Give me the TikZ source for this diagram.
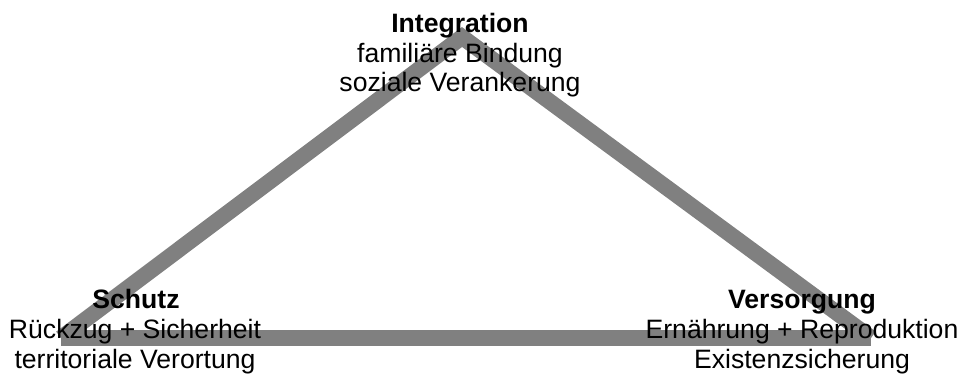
\documentclass[tikz,border=0pt]{standalone}
\usepackage{fontspec}
\setmainfont{Liberation Sans}
\begin{document}
\begin{tikzpicture}[x=1pt,y=-1pt,
  edge/.style={draw={rgb,255:red,128;green,128;blue,128},line width=16pt,line cap=butt,line join=miter},
  lbl/.style={anchor=base,inner sep=0pt,font=\fontsize{26.6}{30}\selectfont},
  hd/.style={lbl,font=\fontsize{26.6}{30}\selectfont\bfseries}]
\useasboundingbox (0,0) rectangle (960,376);
\coordinate (A) at (61,338);
\coordinate (B) at (462,37);
\coordinate (C) at (871,338);
\draw[edge] (A) -- (B) -- (C);
\draw[edge] (A) -- (C);
\node[hd]  (t1) at (460,32) {Integration};
\node[lbl] (t2) at (460,62) {familiäre Bindung};
\node[lbl] (t3) at (460,91) {soziale Verankerung};
\node[hd]  (l1) at (136,308) {Schutz};
\node[lbl] (l2) at (135,338) {Rückzug + Sicherheit};
\node[lbl] (l3) at (135,368) {territoriale Verortung};
\node[hd]  (r1) at (802,308) {Versorgung};
\node[lbl] (r2) at (802,338) {Ernährung + Reproduktion};
\node[lbl] (r3) at (802,368) {Existenzsicherung};
\end{tikzpicture}
\end{document}
